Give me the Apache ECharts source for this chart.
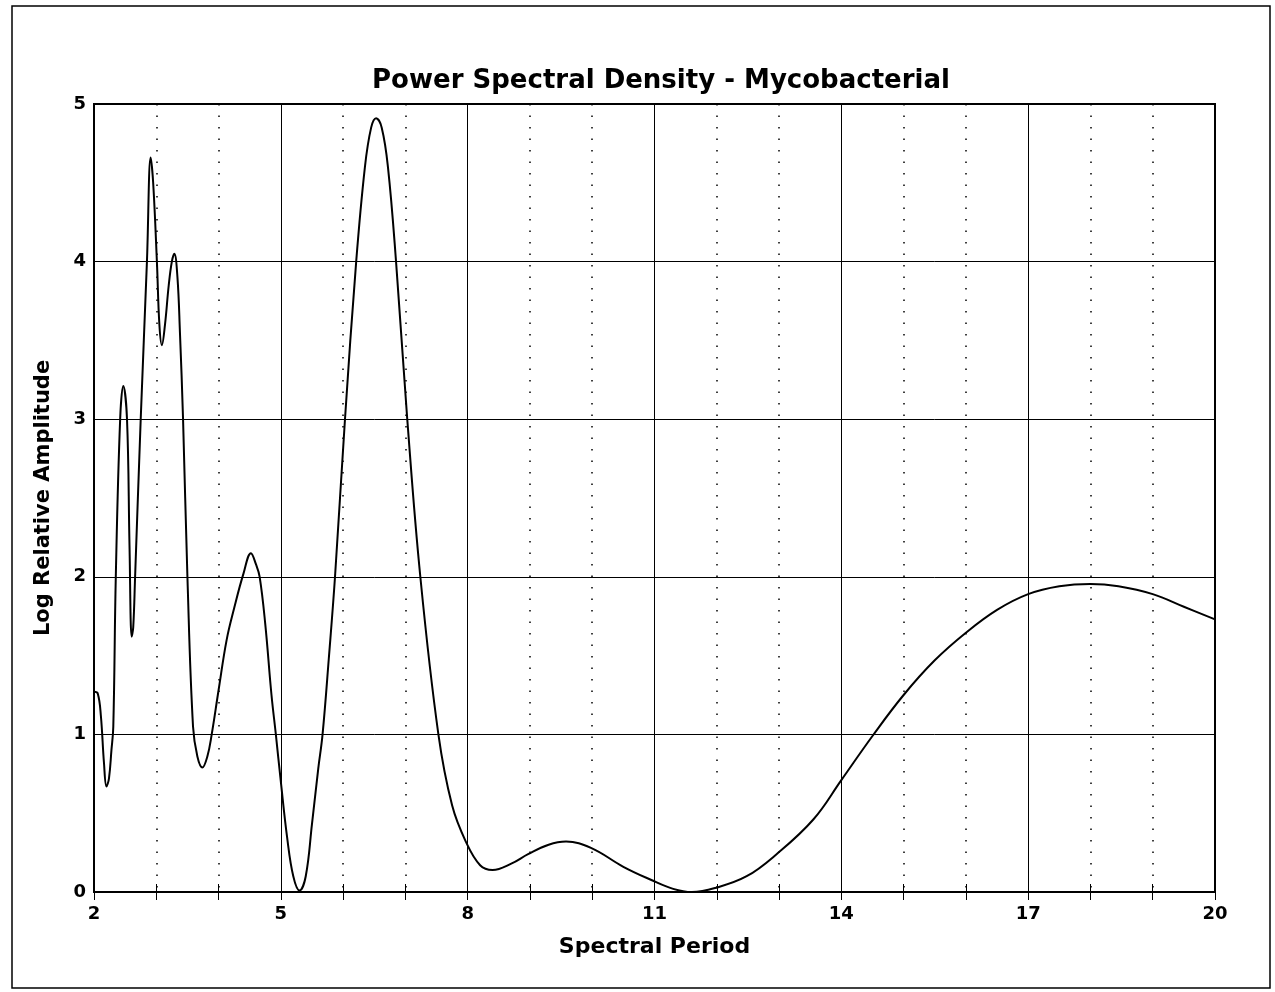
<!DOCTYPE html>
<html>
<head>
<meta charset="utf-8">
<script src="https://cdn.jsdelivr.net/npm/echarts@6/dist/echarts.min.js"></script>
<style>
html,body{margin:0;padding:0;background:#fff;}
#chart{width:1275px;height:992px;}
</style>
</head>
<body>
<div id="chart"></div>
<script>
// Spectral period (x) and log relative amplitude (y)
var periods = [2.00, 2.06, 2.11, 2.16, 2.20, 2.24, 2.28, 2.31, 2.35, 2.42, 2.47, 2.53, 2.57, 2.605, 2.63, 2.66, 2.75, 2.85, 2.91, 2.95, 3.01, 3.05, 3.09, 3.14, 3.20, 3.25, 3.29, 3.34, 3.38, 3.43, 3.50, 3.59, 3.66, 3.74, 3.82, 3.89, 4.00, 4.13, 4.25, 4.40, 4.52, 4.60, 4.66, 4.75, 4.85, 4.92, 5.00, 5.10, 5.20, 5.30, 5.40, 5.50, 5.60, 5.67, 5.77, 5.87, 6.03, 6.21, 6.35, 6.45, 6.53, 6.62, 6.72, 6.85, 7.03, 7.24, 7.53, 7.75, 7.97, 8.20, 8.40, 8.70, 8.97, 9.30, 9.58, 9.98, 10.5, 10.95, 11.3, 11.6, 11.97, 12.48, 12.96, 13.55, 14.0, 14.5, 15.0, 15.5, 16.0, 16.5, 17.0, 17.5, 18.0, 18.45, 19.0, 19.5, 20.0];
var amplitudes = [1.27, 1.26, 1.12, 0.82, 0.67, 0.72, 0.90, 1.05, 2.0, 3.0, 3.21, 3.0, 2.2, 1.62, 1.68, 2.0, 3.0, 4.0, 4.66, 4.5, 4.0, 3.6, 3.47, 3.6, 3.85, 4.0, 4.05, 3.9, 3.55, 3.0, 2.0, 1.05, 0.86, 0.79, 0.86, 1.0, 1.28, 1.6, 1.8, 2.02, 2.15, 2.08, 2.0, 1.7, 1.25, 1.0, 0.7, 0.35, 0.1, 0.01, 0.1, 0.43, 0.78, 1.0, 1.48, 2.0, 3.0, 4.0, 4.6, 4.85, 4.91, 4.85, 4.6, 4.0, 3.0, 2.0, 1.0, 0.55, 0.32, 0.17, 0.14, 0.18, 0.24, 0.30, 0.32, 0.28, 0.16, 0.076, 0.02, 0.0, 0.025, 0.10, 0.24, 0.46, 0.71, 0.99, 1.25, 1.47, 1.645, 1.79, 1.89, 1.94, 1.955, 1.94, 1.89, 1.81, 1.73];
var titleText = 'Power Spectral Density - Mycobacterial';
var xName = 'Spectral Period';
var yName = 'Log Relative Amplitude';

var seriesData = periods.map(function (p, i) { return [p, amplitudes[i]]; });
var FONT = 'DejaVu Sans';

var chart = echarts.init(document.getElementById('chart'));
chart.setOption({
  backgroundColor: '#ffffff',
  animation: false,
  title: {
    text: titleText,
    left: 656,
    textAlign: 'center',
    top: 63,
    textStyle: { fontFamily: FONT, fontWeight: 'bold', fontSize: 26, color: '#000' }
  },
  graphic: [{
    type: 'rect',
    shape: { x: 12, y: 6, width: 1258, height: 982 },
    style: { fill: 'none', stroke: '#000', lineWidth: 1.5 },
    silent: true
  }],
  grid: { left: 94, right: 60, top: 104, bottom: 100, show: true, borderColor: '#000', borderWidth: 2, backgroundColor: 'transparent' },
  xAxis: [{
    type: 'value', min: 2, max: 20, interval: 3,
    name: xName, nameLocation: 'middle', nameGap: 44,
    nameTextStyle: { fontFamily: FONT, fontWeight: 'bold', fontSize: 22, color: '#000' },
    axisLine: { show: true, lineStyle: { color: '#000', width: 2 } },
    axisTick: { show: true, inside: true, length: 8, lineStyle: { color: '#000' } },
    minorTick: { show: true, splitNumber: 3, length: 8, lineStyle: { color: '#000' } },
    axisLabel: { margin: 13, fontFamily: FONT, fontWeight: 'bold', fontSize: 18, color: '#000' },
    splitLine: { show: true, lineStyle: { color: '#000', width: 1 } },
    minorSplitLine: { show: true, lineStyle: { color: '#000', width: 1.5, type: [1.5, 10] } }
  }, {
    type: 'value', min: 2, max: 20, interval: 3, position: 'top',
    axisLine: { show: true, lineStyle: { color: '#000', width: 2 } },
    axisTick: { show: true, inside: true, length: 8, lineStyle: { color: '#000' } },
    minorTick: { show: true, splitNumber: 3, length: 8, lineStyle: { color: '#000' } },
    axisLabel: { show: false },
    splitLine: { show: false }
  }],
  yAxis: [{
    type: 'value', min: 0, max: 5, interval: 1,
    name: yName, nameLocation: 'middle', nameGap: 40, nameRotate: 90,
    nameTextStyle: { fontFamily: FONT, fontWeight: 'bold', fontSize: 21, color: '#000' },
    axisLine: { show: true, lineStyle: { color: '#000', width: 2 } },
    axisTick: { show: true, inside: true, length: 8, lineStyle: { color: '#000' } },
    axisLabel: { margin: 8, fontFamily: FONT, fontWeight: 'bold', fontSize: 18, color: '#000' },
    splitLine: { show: true, lineStyle: { color: '#000', width: 1 } }
  }, {
    type: 'value', min: 0, max: 5, interval: 1, position: 'right',
    axisLine: { show: true, lineStyle: { color: '#000', width: 2 } },
    axisTick: { show: true, inside: true, length: 8, lineStyle: { color: '#000' } },
    axisLabel: { show: false },
    splitLine: { show: false }
  }],
  series: [{
    type: 'line',
    xAxisIndex: 0, yAxisIndex: 0,
    data: seriesData,
    smooth: 0.4,
    showSymbol: false,
    lineStyle: { color: '#000', width: 2 }
  }]
});
</script>
</body>
</html>
